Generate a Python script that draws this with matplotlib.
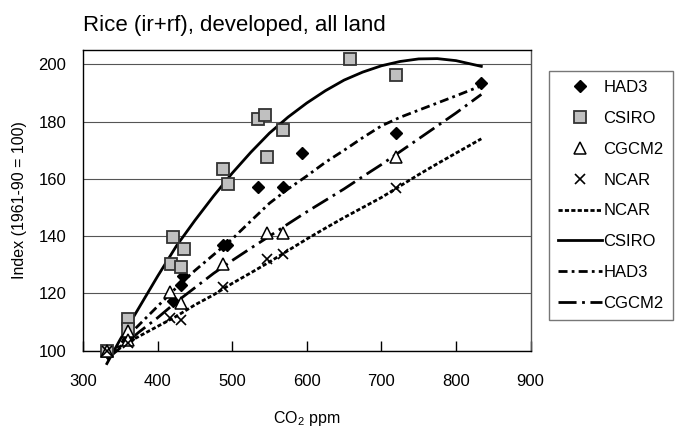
import matplotlib
matplotlib.use("Agg")
import matplotlib.pyplot as plt

plt.rcParams['font.family'] = ['Liberation Sans', 'DejaVu Sans']
plt.rcParams['mathtext.fontset'] = 'custom'
plt.rcParams['mathtext.rm'] = 'Liberation Sans'
plt.rcParams['lines.scale_dashes'] = False

# scatter points (CO2 ppm, index)
had3_x = [332, 360, 421, 432, 434, 487, 493, 535, 568, 593, 720, 834]
had3_y = [100, 104, 117.5, 123, 126, 137, 137, 157, 157, 169, 176, 193.5]
csiro_x = [332, 360, 360, 418, 421, 431, 435, 488, 494, 534, 544, 547, 568, 658, 720]
csiro_y = [100, 111, 107.5, 130.2, 139.6, 129.1, 135.5, 163.5, 158.2, 181, 182.2, 167.5, 177, 201.8, 196.4]
cgcm2_x = [332, 360, 360, 417, 431, 488, 546, 568, 720]
cgcm2_y = [100, 107, 103.7, 120.6, 116.8, 130.3, 141, 141, 167.5]
ncar_x = [332, 360, 417, 431, 488, 546, 568, 720]
ncar_y = [100, 102.8, 111.3, 110.7, 122.4, 132, 133.8, 156.7]

# trend lines
line_x = [332, 350, 375, 400, 425, 450, 475, 500, 525, 550, 575, 600, 625, 650, 675, 700, 725, 750, 775, 800, 834]
ncar_line = [99, 101.5, 105, 108.5, 112, 116, 119.5, 123.5, 127.2, 131, 135, 139, 142.8, 146.5, 150, 153.5, 157.5, 161.5, 165.3, 169, 174]
csiro_line = [95.5, 104, 115, 126, 136.5, 145.5, 154, 162, 169.3, 176, 181.6, 186.5, 190.8, 194.5, 197.3, 199.5, 201, 201.9, 202, 201.3, 199.3]
had3_line = [98, 102.5, 109, 115.5, 122, 128, 133.5, 139, 145.3, 151.5, 156.5, 161, 165.8, 170, 174.4, 178.5, 181.5, 184, 186.5, 189, 192.5]
cgcm2_line = [97, 101, 106.5, 111.5, 117, 122, 127, 131.5, 135.8, 140, 144.3, 148.5, 152.5, 156.5, 160.8, 165, 169.5, 174, 178.5, 183, 189.5]

fig = plt.figure(figsize=(6.75, 4.37), dpi=100)
ax = fig.add_axes([0.123, 0.1975, 0.663, 0.688])

# markers
ax.plot(had3_x, had3_y, ls='none', marker='D', ms=6, mfc='black', mec='black', label='HAD3', zorder=5, clip_on=False)
ax.plot(csiro_x, csiro_y, ls='none', marker='s', ms=8, mfc='#c0c0c0', mec='#333333', mew=1.3, label='CSIRO', zorder=5, clip_on=False)
ax.plot(cgcm2_x, cgcm2_y, ls='none', marker='^', ms=8, mfc='white', mec='black', mew=1.1, label='CGCM2', zorder=5, clip_on=False)
ax.plot(ncar_x, ncar_y, ls='none', marker='x', ms=7.5, mec='black', mew=1.2, label='NCAR', zorder=5, clip_on=False)

# trend lines
lw = 2.0
ax.plot(line_x, ncar_line, color='black', lw=lw, dashes=(3, 1.6), label='NCAR', clip_on=False, zorder=4)
ax.plot(line_x, csiro_line, color='black', lw=lw, label='CSIRO', clip_on=False, zorder=4)
ax.plot(line_x, had3_line, color='black', lw=lw, dashes=(6.5, 3, 2, 3), label='HAD3', clip_on=False, zorder=4)
ax.plot(line_x, cgcm2_line, color='black', lw=lw, dashes=(13, 4, 2, 4), label='CGCM2', clip_on=False, zorder=4)

ax.set_xlim(300, 900)
ax.set_ylim(100, 205)
ax.set_xticks(range(300, 901, 100))
ax.set_yticks(range(100, 201, 20))
ax.tick_params(axis='x', direction='in', length=7, width=1, pad=17, labelsize=12)
ax.tick_params(axis='y', length=0, pad=12, labelsize=12)
ax.yaxis.grid(True, color='#555555', lw=0.8)
ax.set_axisbelow(True)
for s in ax.spines.values():
    s.set_color('black')
    s.set_linewidth(1)
ax.spines['right'].set_color('#555555')

ax.set_xlabel('CO$_2$ ppm', fontsize=11.5, labelpad=14)
ax.set_ylabel('Index (1961-90 = 100)', fontsize=11.5, labelpad=8)
ax.set_title('Rice (ir+rf), developed, all land', fontsize=16, loc='left', pad=14)

leg = ax.legend(loc='upper left', bbox_to_anchor=(549 / 675, 1 - 71 / 437), bbox_transform=fig.transFigure,
                fontsize=12, frameon=True, fancybox=False, edgecolor='#555555', handlelength=2.6,
                handletextpad=0.1, labelspacing=0.95, borderpad=0.55, borderaxespad=0)
leg.get_frame().set_linewidth(1)

fig.savefig('out.png', dpi=100)
